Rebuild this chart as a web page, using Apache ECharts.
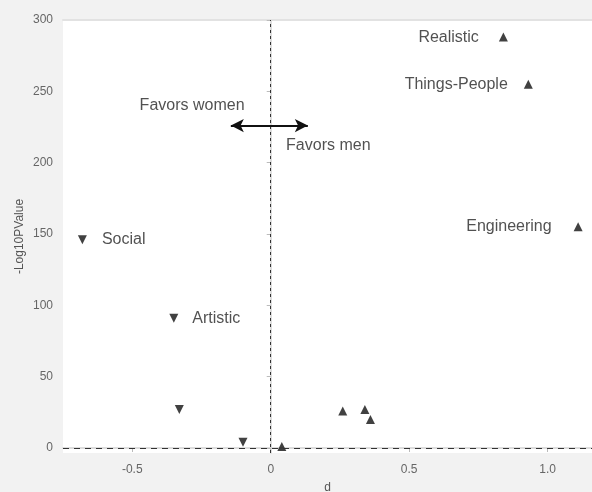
<!DOCTYPE html>
<html>
<head>
<meta charset="utf-8">
<script src="https://cdn.jsdelivr.net/npm/echarts@6/dist/echarts.min.js"></script>
<style>
  html, body { margin: 0; padding: 0; background: #f2f2f2; }
  #chart { width: 592px; height: 492px; }
</style>
</head>
<body>
<div id="chart"></div>
<script>
// Effect size (d) vs. -log10 p for each interest scale
const menNames   = ['Realistic', 'Things-People', 'Engineering', '', '', '', ''];
const menD       = [0.84, 0.93, 1.11, 0.04, 0.26, 0.34, 0.36];
const menLogP    = [288, 255, 155, 1, 26, 27, 20];

const womenNames = ['Social', 'Artistic', '', ''];
const womenD     = [-0.68, -0.35, -0.33, -0.10];
const womenLogP  = [146, 91, 27, 4];

const xTicks = [-0.5, 0, 0.5, 1.0];
const yTicks = [0, 50, 100, 150, 200, 250, 300];

// Direction arrow and its captions
const arrowFrom = [-0.144, 226];
const arrowTo   = [0.134, 226];
const noteText  = ['Favors women', 'Favors men'];
const noteD     = [-0.284, 0.208];
const noteLogP  = [240, 212];

const FONT = '"Liberation Sans", Arial, sans-serif';
const TEXT = '#262626';
const labelGap = { 'Realistic': 20, 'Things-People': 16, 'Engineering': 22, 'Social': 15, 'Artistic': 14 };

function points(names, xs, ys, side) {
  return xs.map((x, i) => {
    const p = { value: [x, ys[i]], name: names[i] };
    if (names[i]) {
      p.label = {
        show: true, position: side, distance: labelGap[names[i]],
        formatter: names[i], fontSize: 16, color: TEXT, fontFamily: FONT
      };
    }
    return p;
  });
}

const chart = echarts.init(document.getElementById('chart'));
chart.setOption({
  backgroundColor: '#f2f2f2',
  animation: false,
  grid: {
    left: 63, right: 0, top: 20, bottom: 39,
    outerBoundsMode: 'none', containLabel: false,
    show: true, backgroundColor: '#ffffff', borderWidth: 0
  },
  xAxis: [
    {
      type: 'value', min: -0.75, max: 1.16,
      name: 'd', nameLocation: 'middle', nameGap: 29, nameMoveOverlap: false,
      nameTextStyle: { fontSize: 12, color: '#555', fontFamily: FONT },
      axisLine: { show: true, lineStyle: { color: '#d2d2d2', width: 1.5 } },
      axisTick: { show: true, customValues: xTicks, length: 4, lineStyle: { color: '#bbb' } },
      axisLabel: {
        customValues: xTicks, margin: 11, fontSize: 12, color: '#666', fontFamily: FONT,
        formatter: v => (v === 0 ? '0' : v.toFixed(1))
      },
      splitLine: { show: false }
    },
    {
      // top frame edge of the plot
      type: 'value', position: 'top', min: -0.75, max: 1.16,
      axisLine: { show: true, lineStyle: { color: '#e2e2e2', width: 2 } },
      axisTick: { show: false }, axisLabel: { show: false }, splitLine: { show: false }
    }
  ],
  yAxis: {
    type: 'value', min: -3.5, max: 300,
    name: '-Log10PValue', nameLocation: 'middle', nameGap: 37, nameMoveOverlap: false,
    nameTextStyle: { fontSize: 12, color: '#555', fontFamily: FONT },
    axisLine: { show: true, lineStyle: { color: '#d2d2d2', width: 1.5 } },
    axisTick: { show: true, customValues: yTicks, length: 4, lineStyle: { color: '#bbb' } },
    axisLabel: { customValues: yTicks, margin: 10, fontSize: 12, color: '#666', fontFamily: FONT },
    splitLine: { show: false }
  },
  series: [
    {
      name: 'Favors men', type: 'scatter',
      symbol: 'triangle', symbolSize: 9,
      itemStyle: { color: '#111' },
      data: points(menNames, menD, menLogP, 'left'),
      markLine: {
        silent: true, symbol: 'none', label: { show: false },
        lineStyle: { color: '#333', width: 1, type: [6, 5] },
        data: [{ yAxis: 0 }]
      }
    },
    {
      name: 'Favors women', type: 'scatter',
      symbol: 'triangle', symbolRotate: 180, symbolSize: 9,
      itemStyle: { color: '#111' },
      data: points(womenNames, womenD, womenLogP, 'right'),
      markLine: {
        silent: true, symbol: 'none', label: { show: false },
        lineStyle: { color: '#333', width: 1, type: [3, 3] },
        data: [{ xAxis: 0 }]
      }
    },
    {
      name: 'notes', type: 'scatter', symbolSize: 0, silent: true,
      data: noteText.map((t, i) => ({
        value: [noteD[i], noteLogP[i]],
        label: { show: true, position: 'inside', formatter: t, fontSize: 16, color: TEXT, fontFamily: FONT }
      })),
      markLine: {
        silent: true, symbol: ['arrow', 'arrow'], symbolSize: [10, 13],
        label: { show: false },
        lineStyle: { color: '#111', width: 2, type: 'solid' },
        data: [[{ coord: arrowFrom }, { coord: arrowTo }]]
      }
    }
  ]
});
</script>
</body>
</html>
